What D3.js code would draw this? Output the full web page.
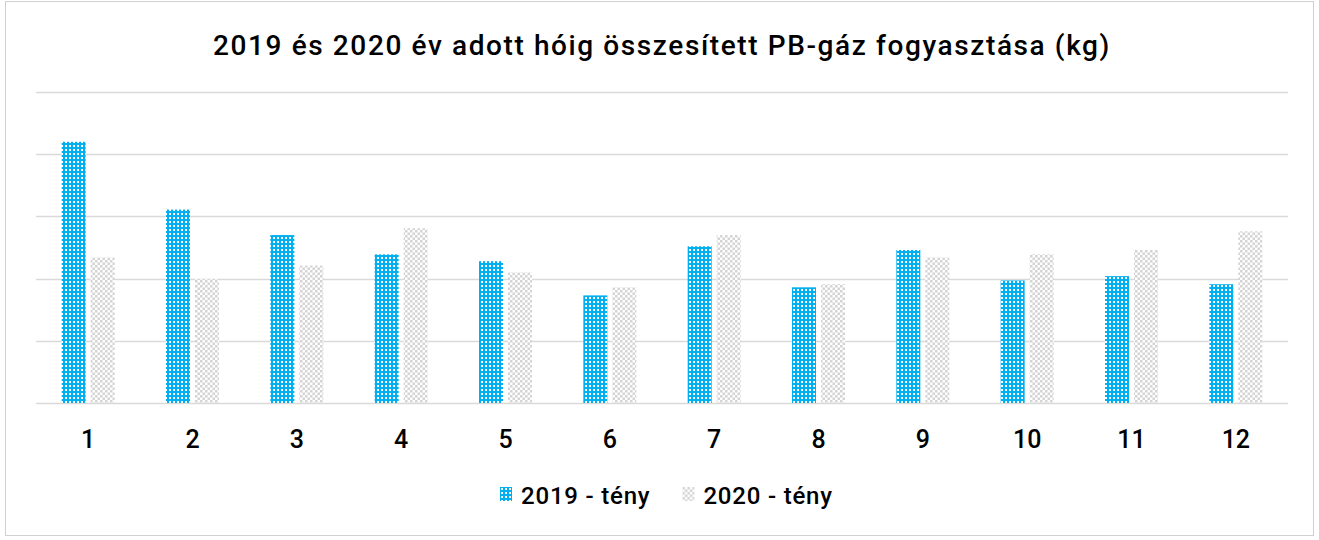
<!DOCTYPE html>
<html>
<head>
<meta charset="utf-8">
<script src="https://cdn.jsdelivr.net/npm/d3@7"></script>
<style>
  body { margin: 0; background: #fff; }
  text { font-family: "Roboto", sans-serif; font-weight: 500; fill: #000; }
</style>
</head>
<body>
<svg id="chart"></svg>
<script>
var w = 1319; // Width of the SVG element
var h = 540;  // Height of the SVG element
var margin = { top: 92, right: 31, bottom: 137, left: 36 };

// months 1..12
var months = ["1", "2", "3", "4", "5", "6", "7", "8", "9", "10", "11", "12"];
var seriesNames = ["2019 - tény", "2020 - tény"];
// gridline step = 1
var values2019 = [4.20, 3.11, 2.70, 2.39, 2.28, 1.73, 2.52, 1.86, 2.46, 1.97, 2.04, 1.91];
var values2020 = [2.34, 1.99, 2.21, 2.81, 2.10, 1.86, 2.70, 1.91, 2.34, 2.39, 2.46, 2.76];
var yTicks = [0, 1, 2, 3, 4, 5];

var svg = d3.select("#chart")
  .attr("width", w)
  .attr("height", h);

// patterns
var defs = svg.append("defs");
var p1 = defs.append("pattern")
  .attr("id", "pat2019")
  .attr("width", 4).attr("height", 4)
  .attr("patternUnits", "userSpaceOnUse");
p1.append("rect").attr("width", 4).attr("height", 4).attr("fill", "#00b0f0");
p1.append("rect").attr("x", 1).attr("y", 1).attr("width", 2).attr("height", 2).attr("fill", "#ffffff");

var p2 = defs.append("pattern")
  .attr("id", "pat2020")
  .attr("width", 5).attr("height", 5)
  .attr("patternUnits", "userSpaceOnUse");
p2.append("rect").attr("width", 5).attr("height", 5).attr("fill", "#ffffff");
p2.append("rect").attr("width", 2.5).attr("height", 2.5).attr("fill", "#d4d4d4");
p2.append("rect").attr("x", 2.5).attr("y", 2.5).attr("width", 2.5).attr("height", 2.5).attr("fill", "#d4d4d4");

// outer frame
svg.append("rect")
  .attr("x", 5.5).attr("y", 1.5)
  .attr("width", 1308).attr("height", 534)
  .attr("fill", "none")
  .attr("stroke", "#d0d0d0");

// title
svg.append("text")
  .attr("x", 662)
  .attr("y", 55)
  .attr("text-anchor", "middle")
  .style("font-size", "28px")
  .style("letter-spacing", "1.6px")
  .text("2019 és 2020 év adott hóig összesített PB-gáz fogyasztása (kg)");

var xScale = d3.scaleBand()
  .domain(months)
  .range([margin.left, w - margin.right]);

var yScale = d3.scaleLinear()
  .domain([0, 5])
  .range([h - margin.bottom, margin.top]);

// gridlines
svg.append("g")
  .selectAll("line")
  .data(yTicks)
  .enter()
  .append("line")
  .attr("x1", margin.left)
  .attr("x2", w - margin.right)
  .attr("y1", (d) => Math.round(yScale(d)) + 0.5)
  .attr("y2", (d) => Math.round(yScale(d)) + 0.5)
  .attr("stroke", "#d9d9d9")
  .attr("stroke-width", 1.5);

var barW = 24;
var gap = 5;

// bars
svg.append("g")
  .selectAll("rect")
  .data(months.map((m, i) => [m, values2019[i]]))
  .enter()
  .append("rect")
  .attr("x", (d) => xScale(d[0]) + xScale.bandwidth() / 2 - barW - gap / 2)
  .attr("y", (d) => yScale(d[1]))
  .attr("width", barW)
  .attr("height", (d) => yScale(0) - yScale(d[1]))
  .attr("fill", "url(#pat2019)");

svg.append("g")
  .selectAll("rect")
  .data(months.map((m, i) => [m, values2020[i]]))
  .enter()
  .append("rect")
  .attr("x", (d) => xScale(d[0]) + xScale.bandwidth() / 2 + gap / 2)
  .attr("y", (d) => yScale(d[1]))
  .attr("width", barW)
  .attr("height", (d) => yScale(0) - yScale(d[1]))
  .attr("fill", "url(#pat2020)");

// x axis labels
var xAxis = svg.append("g")
  .attr("transform", `translate(0,${h - margin.bottom})`)
  .call(d3.axisBottom(xScale).tickSize(0).tickPadding(27));
xAxis.select(".domain").remove();
xAxis.selectAll("text")
  .style("font-size", "25px")
  .style("font-family", "Roboto, sans-serif")
  .style("font-weight", "500")
  .attr("fill", "#000");

// legend
var legend = svg.append("g");
var legendFill = ["url(#pat2019)", "url(#pat2020)"];
var lx = 500;
seriesNames.forEach(function(name, i) {
  var g = legend.append("g").attr("transform", `translate(${lx},487)`);
  g.append("rect")
    .attr("x", 0).attr("y", 0)
    .attr("width", 12).attr("height", 14)
    .attr("fill", legendFill[i]);
  var t = g.append("text")
    .attr("x", 21)
    .attr("y", 17)
    .style("font-size", "24px")
    .style("letter-spacing", "0.8px")
    .text(name);
  lx += 21 + t.node().getComputedTextLength() + 32;
});
</script>
</body>
</html>
